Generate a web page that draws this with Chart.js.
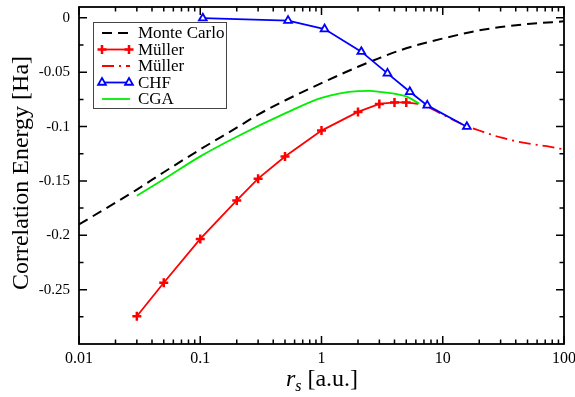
<!DOCTYPE html>
<html>
<head>
<meta charset="utf-8">
<script src="https://cdn.jsdelivr.net/npm/chart.js@4.4.0/dist/chart.umd.min.js"></script>
<style>
    html, body { margin: 0; padding: 0; background: #fff; }
    canvas { display: block; }
</style>
</head>
<body>
<canvas id="energyChart" width="575" height="397"></canvas>
<script>
// values (r_s in a.u., energies in Ha)
const mcX = [0.01, 0.02, 0.03, 0.05, 0.1, 0.2, 0.3, 0.5, 1, 2, 3, 5, 10, 20, 30, 50, 100];
const mcY = [-0.190, -0.170, -0.158, -0.142, -0.121, -0.101, -0.089, -0.076, -0.060, -0.045, -0.037, -0.028, -0.019, -0.0115, -0.0085, -0.0057, -0.0032];

const mullerX = [0.03, 0.05, 0.1, 0.2, 0.3, 0.5, 1, 2, 3, 4, 5];
const mullerY = [-0.2745, -0.2436, -0.2033, -0.1679, -0.1479, -0.1275, -0.1037, -0.0865, -0.0792, -0.0778, -0.0778];

const mullerExtX = [5, 7, 10, 15, 20, 30, 50, 70, 100];
const mullerExtY = [-0.0778, -0.0805, -0.0890, -0.0986, -0.1036, -0.1100, -0.1155, -0.1178, -0.1210];

const chfX = [0.105, 0.53, 1.06, 2.13, 3.5, 5.35, 7.45, 15.8];
const chfY = [-0.0003, -0.0025, -0.0103, -0.0311, -0.0511, -0.0680, -0.0805, -0.1001];

const cgaX = [0.03, 0.05, 0.1, 0.2, 0.5, 1, 2, 2.5, 3, 5, 6.4];
const cgaY = [-0.1636, -0.1485, -0.1274, -0.1093, -0.0879, -0.0735, -0.0673, -0.0671, -0.0680, -0.0723, -0.0790];

const xTicks = [0.01, 0.1, 1, 10, 100];
const yTicks = [-0.25, -0.2, -0.15, -0.1, -0.05, 0];

function toPoints(xs, ys) {
    return xs.map((x, i) => ({x: x, y: ys[i]}));
}

document.addEventListener("DOMContentLoaded", function () {
    const SERIF = "'Liberation Serif', 'Times New Roman', serif";

    // inward ticks, frame, axis titles and the boxed legend
    const framePlugin = {
        id: 'frame',
        afterDatasetsDraw(chart) {
            const c = chart.ctx;
            const a = chart.chartArea;
            const xs = chart.scales.x;
            const ys = chart.scales.y;
            c.save();
            c.strokeStyle = '#000';
            c.lineWidth = 1.5;
            c.beginPath();
            for (let i = 0; i < xTicks.length; i++) {
                const d = xTicks[i];
                let px = xs.getPixelForValue(d);
                c.moveTo(px, a.bottom); c.lineTo(px, a.bottom - 8);
                c.moveTo(px, a.top); c.lineTo(px, a.top + 8);
                if (i === xTicks.length - 1) break;
                for (let k = 2; k <= 9; k++) {
                    px = xs.getPixelForValue(d * k);
                    c.moveTo(px, a.bottom); c.lineTo(px, a.bottom - 4.5);
                    c.moveTo(px, a.top); c.lineTo(px, a.top + 4.5);
                }
            }
            for (const v of yTicks) {
                let py = ys.getPixelForValue(v);
                c.moveTo(a.left, py); c.lineTo(a.left + 8, py);
                c.moveTo(a.right, py); c.lineTo(a.right - 8, py);
                py = ys.getPixelForValue(v - 0.025);
                c.moveTo(a.left, py); c.lineTo(a.left + 4.5, py);
                c.moveTo(a.right, py); c.lineTo(a.right - 4.5, py);
            }
            c.stroke();
            c.lineWidth = 1.8;
            c.strokeRect(a.left, a.top, a.right - a.left, a.bottom - a.top);
            c.restore();
        },
        afterDraw(chart) {
            const c = chart.ctx;
            c.save();
            c.fillStyle = '#000';

            // y title
            c.translate(22, 173);
            c.rotate(-Math.PI / 2);
            c.font = '24px ' + SERIF;
            c.textAlign = 'center';
            c.textBaseline = 'middle';
            c.fillText('Correlation Energy [Ha]', 0, 0);
            c.setTransform(1, 0, 0, 1, 0, 0);

            // x title: r_s [a.u.]
            c.textAlign = 'left';
            c.textBaseline = 'alphabetic';
            c.font = 'italic 24px ' + SERIF;
            const wR = c.measureText('r').width;
            c.font = 'italic 16px ' + SERIF;
            const wS = c.measureText('s').width;
            c.font = '24px ' + SERIF;
            const rest = ' [a.u.]';
            const wRest = c.measureText(rest).width;
            let tx = 322 - (wR + wS + wRest) / 2;
            const base = 386;
            c.font = 'italic 24px ' + SERIF;
            c.fillText('r', tx, base);
            tx += wR;
            c.font = 'italic 16px ' + SERIF;
            c.fillText('s', tx, base + 5);
            tx += wS;
            c.font = '24px ' + SERIF;
            c.fillText(rest, tx, base);

            // legend box
            c.fillStyle = '#fff';
            c.fillRect(93, 22, 134, 87);
            c.strokeStyle = '#444';
            c.lineWidth = 1;
            c.strokeRect(93.5, 22.5, 133, 86);
            c.font = '17px ' + SERIF;
            c.textBaseline = 'middle';
            chart.data.datasets.forEach(function (ds, i) {
                const y = 33 + i * 16.5;
                c.save();
                c.strokeStyle = ds.borderColor;
                c.lineWidth = ds.borderWidth;
                c.setLineDash(ds.borderDash || []);
                c.beginPath();
                c.moveTo(102, y);
                c.lineTo(130, y);
                c.stroke();
                c.setLineDash([]);
                if (ds.pointRadius > 0) {
                    c.fillStyle = ds.pointBackgroundColor;
                    c.strokeStyle = ds.pointBorderColor;
                    c.lineWidth = ds.pointBorderWidth;
                    const opts = {pointStyle: ds.pointStyle, radius: ds.pointRadius, borderWidth: ds.pointBorderWidth, rotation: 0};
                    Chart.helpers.drawPoint(c, opts, 102, y);
                    Chart.helpers.drawPoint(c, opts, 129, y);
                }
                c.restore();
                c.fillStyle = '#000';
                c.fillText(ds.label, 138, y + 1);
            });
            c.restore();
        }
    };

    const ctx = document.getElementById("energyChart").getContext("2d");
    const energyChart = new Chart(ctx, {
        type: 'line',
        data: {
            datasets: [{
                label: 'Monte Carlo',
                data: toPoints(mcX, mcY),
                borderColor: '#000',
                borderWidth: 2,
                borderDash: [10, 6],
                pointRadius: 0,
                cubicInterpolationMode: 'monotone',
                order: 5
            }, {
                label: 'Müller',
                data: toPoints(mullerX, mullerY),
                borderColor: '#ff0000',
                borderWidth: 1.8,
                pointStyle: 'cross',
                pointRadius: 4.5,
                pointBorderWidth: 2.5,
                pointBorderColor: '#ff0000',
                pointBackgroundColor: '#ff0000',
                order: 4
            }, {
                label: 'Müller',
                data: toPoints(mullerExtX, mullerExtY),
                borderColor: '#ff0000',
                borderWidth: 1.8,
                borderDash: [12, 5, 2, 5],
                pointRadius: 0,
                cubicInterpolationMode: 'monotone',
                order: 3
            }, {
                label: 'CHF',
                data: toPoints(chfX, chfY),
                borderColor: '#0000ff',
                borderWidth: 1.8,
                pointStyle: 'triangle',
                pointRadius: 4.5,
                pointBorderWidth: 1.8,
                pointBorderColor: '#0000ff',
                pointBackgroundColor: '#ffffff',
                order: 1
            }, {
                label: 'CGA',
                data: toPoints(cgaX, cgaY),
                borderColor: '#00ee00',
                borderWidth: 1.8,
                pointRadius: 0,
                cubicInterpolationMode: 'monotone',
                order: 2
            }]
        },
        options: {
            responsive: false,
            animation: false,
            devicePixelRatio: 1,
            layout: {padding: {left: 0, right: 11, top: 2, bottom: 0}},
            plugins: {
                legend: {display: false},
                tooltip: {enabled: false}
            },
            scales: {
                x: {
                    type: 'logarithmic',
                    min: 0.01,
                    max: 100,
                    grid: {display: false, drawTicks: false},
                    border: {display: false},
                    afterBuildTicks: function (s) {
                        s.ticks = xTicks.map(v => ({value: v}));
                    },
                    afterFit: function (s) {
                        s.height = 53;
                        s.paddingLeft = 0;
                        s.paddingRight = 0;
                    },
                    ticks: {
                        color: '#000',
                        font: {family: SERIF, size: 16},
                        padding: 5,
                        maxRotation: 0,
                        autoSkip: false,
                        callback: v => String(v)
                    }
                },
                y: {
                    type: 'linear',
                    min: -0.3,
                    max: 0.01,
                    grid: {display: false, drawTicks: false},
                    border: {display: false},
                    afterBuildTicks: function (s) {
                        s.ticks = yTicks.map(v => ({value: v}));
                    },
                    afterFit: function (s) {
                        s.width = 79;
                        s.paddingTop = 0;
                        s.paddingBottom = 0;
                    },
                    ticks: {
                        color: '#000',
                        font: {family: SERIF, size: 15},
                        padding: 9,
                        callback: v => String(v)
                    }
                }
            }
        },
        plugins: [framePlugin]
    });
});
</script>
</body>
</html>
